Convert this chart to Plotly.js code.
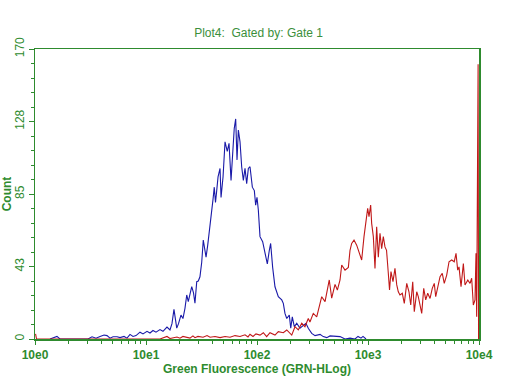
<!DOCTYPE html>
<html>
<head>
<meta charset="utf-8">
<script src="https://cdn.plot.ly/plotly-3.0.1.min.js"></script>
<style>html,body{margin:0;padding:0;background:#fff;}#chart{width:512px;height:384px;}</style>
</head>
<body>
<div id="chart"></div>
<script>
// x values are log10 of Green Fluorescence (decades), y values are counts
var blueX = [0.135,0.198,0.225,0.477,0.514,0.550,0.586,0.622,0.649,0.676,0.703,0.739,0.766,0.802,0.829,0.856,0.883,0.910,0.946,0.973,1.009,1.036,1.063,1.090,1.126,1.153,1.189,1.216,1.234,1.252,1.277,1.293,1.315,1.333,1.351,1.367,1.381,1.396,1.412,1.428,1.441,1.457,1.471,1.486,1.502,1.516,1.529,1.541,1.556,1.570,1.592,1.604,1.615,1.626,1.637,1.649,1.667,1.676,1.694,1.712,1.732,1.748,1.766,1.781,1.795,1.808,1.820,1.832,1.847,1.862,1.877,1.892,1.907,1.922,1.937,1.958,1.976,1.988,2.000,2.012,2.027,2.051,2.072,2.093,2.111,2.123,2.141,2.162,2.192,2.223,2.237,2.252,2.268,2.291,2.304,2.318,2.336,2.358,2.387,2.417,2.441,2.462,2.493,2.523,2.538,2.568,2.597,2.628,2.658,2.703,2.748,2.793,2.838,2.883,2.910,2.937,2.955,2.982];
var blueY = [0,1.5,0,0,1.3,0.5,1.5,2.3,2.0,0.5,1.3,1.3,0.8,1.5,0.5,2.7,1.5,2.0,4,3,4.5,3.5,5,4,5.5,4.5,7,5.3,9,17.4,6.4,9,14,12,18,25.8,21.9,26,30.7,27,21,33.6,34,36.5,45,58,52,48,55,62,75.6,82,89,80,87,95,100,83,95,115.6,110,114.7,93,108.8,123.5,129,105,122.5,115.6,101,93,100,91,100,101,89,87,78.5,83,75.6,60,57,50,44,52,56,42,30.6,24.8,22.9,20.9,15,12,14,6.3,13,7.2,9.2,6.3,8.2,9.2,6.3,3.3,2,2.3,2.7,1.4,0.8,1.8,1.4,1.4,0,0.5,0,1.5,0.5,1.5,0];

var redX = [0.005,0.014,1.126,1.153,1.189,1.216,1.279,1.306,1.333,1.396,1.423,1.441,1.468,1.514,1.550,1.577,1.622,1.667,1.712,1.757,1.802,1.847,1.892,1.919,1.937,1.964,1.991,2.027,2.057,2.087,2.117,2.162,2.192,2.237,2.268,2.313,2.342,2.372,2.403,2.432,2.462,2.477,2.507,2.538,2.568,2.583,2.613,2.631,2.651,2.673,2.703,2.724,2.748,2.763,2.793,2.823,2.838,2.853,2.874,2.898,2.922,2.943,2.964,2.979,2.997,3.009,3.024,3.033,3.048,3.063,3.078,3.093,3.108,3.123,3.138,3.153,3.167,3.183,3.194,3.207,3.225,3.243,3.259,3.273,3.288,3.309,3.327,3.349,3.369,3.385,3.403,3.417,3.439,3.453,3.468,3.484,3.502,3.520,3.538,3.559,3.579,3.597,3.610,3.633,3.649,3.669,3.687,3.709,3.730,3.754,3.777,3.793,3.808,3.820,3.838,3.859,3.874,3.899,3.919,3.934,3.949,3.964,3.973,3.979,3.986,3.992,3.996];
var redY = [3,0,0,0.8,1.5,0.3,1.2,0.5,1.5,0.5,1.8,0.8,1.5,1,2,1,1.5,0.8,1.5,1,2,1.5,2.5,1.2,2.8,1.5,3,2.3,3.7,1.4,3.7,2.3,4.3,3.7,5.3,2.3,7.2,5.3,9.2,7.2,12,10,15,13,21,24.8,21.9,28,34.6,24,32,28.7,34.6,43.4,40.4,42,52,56,58,55,51,46.3,60,67.8,76.6,71.7,78.5,67.8,60,41.4,65.8,48,62,53,60,54,52,38.5,28.7,39.5,33.6,41.4,31.7,27.7,25.8,26.8,20.9,32.6,27.7,19.9,33.6,16,27.7,24.8,18.9,15,29.7,22.9,26.8,23.8,29.7,32.6,24.8,32.6,36.5,38.5,32.6,37.5,45.3,46.3,45.3,50.2,40.4,42.3,30.6,44.3,31.7,34.6,32.6,35.6,19.9,22.9,50.2,13,124,161,0];

var xTickVals = [0,1,2,3,4];
var xTickText = ["10e0","10e1","10e2","10e3","10e4"];
var yTickVals = [0,42.5,85,127.5,170];
var yTickText = ["0","43","85","128","170"];

var green = "#2e8b2e";
var xMinor = [];
for (var d = 0; d < 4; d++) { for (var k = 2; k <= 9; k++) { xMinor.push(d + Math.log10(k)); } }
var yMinor = [];
for (var v = 8.5; v < 170; v += 8.5) { if (Math.abs(v/42.5 - Math.round(v/42.5)) > 1e-6) yMinor.push(v); }

var traces = [
  {x: blueX, y: blueY, type: "scatter", mode: "lines", line: {color: "#1a1aa8", width: 1.1}, hoverinfo: "skip"},
  {x: redX, y: redY, type: "scatter", mode: "lines", line: {color: "#c01818", width: 1.1}, hoverinfo: "skip"}
];

var layout = {
  width: 512, height: 384,
  margin: {l: 35, r: 33, t: 49, b: 45},
  paper_bgcolor: "#ffffff", plot_bgcolor: "#ffffff",
  showlegend: false,
  font: {family: "Liberation Sans, Arial, sans-serif", color: green, size: 11},
  title: {text: "Plot4:  Gated by: Gate 1", x: 0.505, xanchor: "center", y: 0.915, yanchor: "middle",
          font: {family: "Liberation Sans, Arial, sans-serif", size: 12, color: "#3b8f3b"}},
  xaxis: {
    range: [0, 4], type: "linear", fixedrange: true,
    showgrid: false, zeroline: false,
    showline: true, linecolor: green, linewidth: 1.5, mirror: true,
    ticks: "outside", ticklen: 4, tickwidth: 1, tickcolor: green,
    tickvals: xTickVals, ticktext: xTickText,
    tickfont: {family: "Liberation Sans, Arial, sans-serif", size: 12, color: green, weight: "bold"},
    minor: {tickvals: xMinor, ticks: "outside", ticklen: 3, tickcolor: green, showgrid: false},
    title: {text: "Green Fluorescence (GRN-HLog)", standoff: 0,
            font: {family: "Liberation Sans, Arial, sans-serif", size: 12, color: green, weight: "bold"}}
  },
  yaxis: {
    range: [0, 170], fixedrange: true,
    showgrid: false, zeroline: false,
    showline: true, linecolor: green, linewidth: 1.5, mirror: true,
    ticks: "outside", ticklen: 5, tickwidth: 1, tickcolor: green,
    tickvals: yTickVals, ticktext: yTickText, tickangle: -90,
    tickfont: {family: "Liberation Sans, Arial, sans-serif", size: 12, color: green},
    minor: {tickvals: yMinor, ticks: "outside", ticklen: 3, tickcolor: green, showgrid: false},
    title: {text: "Count", standoff: 2,
            font: {family: "Liberation Sans, Arial, sans-serif", size: 12, color: green, weight: "bold"}}
  }
};

Plotly.newPlot("chart", traces, layout, {staticPlot: true, displayModeBar: false});
</script>
</body>
</html>
